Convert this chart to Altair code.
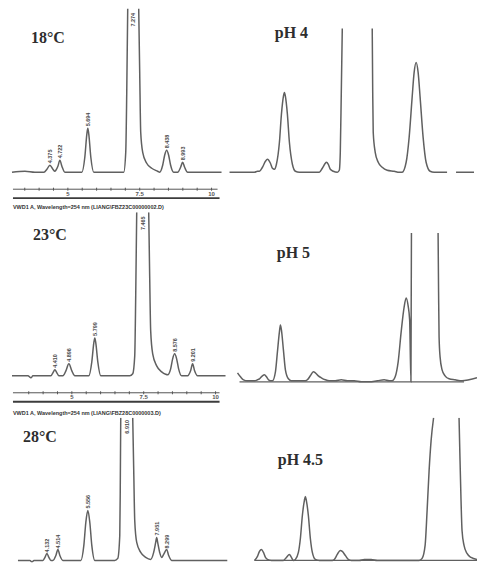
import altair as alt
import pandas as pd

# ---------------- data (retention time in min, signal in mAU) ----------------
# 18 °C chromatogram (two parts: the main peak is off-scale)
T18A = [3.056, 3.507, 3.854, 4.167, 4.271, 4.375, 4.479, 4.549, 4.583, 4.653, 4.722, 4.792, 4.896,
        5.486, 5.590, 5.660, 5.694, 5.729, 5.799, 5.903, 6.944, 7.014, 7.049, 7.083]
H18A = [0, 1, 0, 0, 3, 7, 3, 1, 2, 6, 12, 6, 0,
        0, 15, 38, 44, 38, 15, 0, 0, 20, 80, 164]
T18B = [7.465, 7.500, 7.535, 7.604, 7.743, 7.917, 8.125, 8.194, 8.299, 8.368, 8.438, 8.507, 8.576,
        8.681, 8.819, 8.924, 8.993, 9.063, 9.167, 10.347]
H18B = [164, 100, 40, 20, 9, 4, 1, 0, 7, 17, 22, 17, 7,
        0, 0, 5, 10, 5, 0, 0]
PK18_T = [4.375, 4.722, 5.694, 7.274, 8.438, 8.993]
PK18_H = [9, 14, 46, 146, 24, 12]
PK18_LAB = ["4.375", "4.722", "5.694", "7.274", "8.438", "8.993"]

# 23 °C chromatogram
T23A = [2.917, 3.472, 3.576, 3.646, 4.201, 4.271, 4.340, 4.410, 4.479, 4.549, 4.688, 4.792, 4.896,
        5.000, 5.104, 5.590, 5.694, 5.764, 5.799, 5.833, 5.903, 6.007, 7.014, 7.118, 7.188, 7.222, 7.257]
H23A = [0, 0, -2, 0, 0, 0, 3, 6, 3, 0, 0, 5, 12,
        5, 0, 0, 14, 33, 38, 33, 14, 0, 0, 2, 20, 80, 164]
T23B = [7.674, 7.708, 7.743, 7.813, 7.951, 8.125, 8.264, 8.333, 8.438, 8.507, 8.576, 8.646, 8.715,
        8.819, 9.028, 9.132, 9.201, 9.271, 9.375, 10.347]
H23B = [164, 100, 45, 22, 10, 4, 1.5, 1, 7, 17, 22, 17, 7,
        0, 0, 5, 12, 5, 0, 0]
PK23_T = [4.410, 4.896, 5.799, 7.465, 8.576, 9.201]
PK23_H = [8, 14, 40, 146, 24, 14]
PK23_LAB = ["4.410", "4.896", "5.799", "7.465", "8.576", "9.201"]

# 28 °C chromatogram
T28A = [3.125, 3.542, 3.611, 3.681, 3.993, 4.063, 4.132, 4.201, 4.271, 4.340, 4.444, 4.514, 4.583,
        4.688, 5.313, 5.417, 5.486, 5.556, 5.625, 5.694, 5.799, 6.493, 6.597, 6.667, 6.684, 6.701]
H28A = [0, 0, -1.5, 0, 0, 3, 7, 3, 0, 0, 5, 11, 5,
        0, 0, 15, 38, 50, 38, 15, 0, 0, 2, 25, 70, 143]
T28B = [7.118, 7.153, 7.188, 7.257, 7.396, 7.569, 7.743, 7.847, 7.917, 7.951, 7.986, 8.056, 8.125,
        8.194, 8.299, 8.368, 8.472, 10.417]
H28B = [143, 90, 40, 18, 8, 3, 1, 8, 18, 23, 18, 8, 3,
        6, 11, 5, 0, 0]
PK28_T = [4.132, 4.514, 5.556, 6.910, 7.951, 8.299]
PK28_H = [8, 12, 52, 127, 25, 12]
PK28_LAB = ["4.132", "4.514", "5.556", "6.910", "7.951", "8.299"]

# pH 4
TP4A = [0.2, 2.7, 3.0, 3.2, 3.5, 3.8, 4.0, 4.3, 4.5, 4.7, 4.9, 5.2, 5.4, 5.6, 5.7, 5.8, 6.0, 6.2,
        6.5, 6.8, 7.2, 8.8, 9.2, 9.5, 9.8, 9.9, 10.1, 10.3, 10.6, 11.0, 11.2, 11.3, 11.4, 11.5]
HP4A = [0, 0, 1, 1, 5, 11, 13, 9, 4, 3, 8, 30, 58, 76, 80, 76, 58, 30,
        8, 1, 0, 0, 0, 4, 9, 10, 8, 3, 1, 0, 2, 20, 80, 144]
TP4B = [14.5, 14.55, 14.6, 14.8, 15.1, 15.5, 16.0, 16.7, 17.2, 17.5, 17.9, 18.2, 18.5, 18.7, 18.9,
        19.1, 19.3, 19.6, 19.9, 20.3, 20.7, 22.0]
HP4B = [144, 80, 40, 20, 10, 5, 2, 1, 0, 0, 10, 35, 75, 100, 110,
        100, 75, 35, 10, 1, 0, 0]
TP4C = [22.9, 24.7]
HP4C = [0, 0]

# pH 5
TP5A = [1.0, 1.3, 1.6, 2.0, 2.7, 3.0, 3.2, 3.5, 3.7, 3.9, 4.1, 4.3, 4.5, 4.8, 5.0, 5.2, 5.3, 5.4,
        5.6, 5.8, 6.1, 6.4, 7.2, 7.8, 8.0, 8.3, 8.6, 8.8, 9.1, 9.4, 9.8, 10.2, 10.8, 11.4, 12.0,
        12.7, 13.4, 14.2, 15.0, 15.7, 16.2, 16.5, 16.8, 17.1, 17.4, 17.7, 17.9, 18.1, 18.25, 18.38, 18.43]
HP5A = [9, 5, 2, 1, 1, 2, 3, 6, 7, 5, 2, 1, 1, 10, 30, 50, 57, 52,
        32, 12, 3, 1, 1, 1, 2, 6, 10, 9, 6, 4, 2, 1, 1, 2, 1,
        1, 0, 0, 1, 2, 1, 1, 5, 20, 50, 75, 84, 76, 62, 0, 149]
TP5B = [21.1, 21.15, 21.2, 21.3, 21.5, 21.8, 22.2, 22.8, 23.5, 24.2, 25.0]
HP5B = [149, 90, 45, 25, 12, 6, 3, 2, 1, 2, 4]
BASE5 = [1.2, 23.7]

# pH 4.5
TP45A = [2.7, 3.0, 3.2, 3.4, 3.6, 3.8, 4.0, 4.4, 4.8, 5.6, 5.9, 6.2, 6.4, 6.6, 6.8, 7.1, 7.3, 7.5,
         7.7, 7.8, 7.9, 8.1, 8.3, 8.5, 8.8, 9.2, 10.5, 10.7, 11.0, 11.3, 11.5, 11.8, 12.1, 12.4,
         13.2, 13.7, 14.4, 15.0, 16.2, 17.2, 18.2, 19.2, 19.5, 19.8, 20.0, 20.2, 20.4, 20.65]
HP45A = [0, 4, 9, 11, 8, 3, 1, 0, 0, 0, 3, 6, 3, 0, 1, 8, 22, 45,
         60, 64, 60, 45, 22, 8, 1, 0, 0, 1, 6, 10, 9, 5, 1, 0,
         0, 1, 1, 0, 0, 0, 0, 0, 2, 15, 50, 90, 120, 143]
TP45B = [23.2, 23.3, 23.4, 23.5, 23.7, 24.0, 24.4, 25.0]
HP45B = [143, 100, 60, 30, 15, 7, 3, 1]
BASE45 = [2.7, 25.0]

# time-axis strips printed below the 18 °C and 23 °C runs
AX_TICKS = [3.5, 4.0, 4.5, 5.0, 5.5, 6.0, 6.5, 7.0, 7.5, 8.0, 8.5, 9.0, 9.5, 10.0]
AX_LABELS = [5, 7.5, 10]
HEADER_23 = "VWD1 A, Wavelength=254 nm (LIANG\\FBZ23C00000002.D)"
HEADER_28 = "VWD1 A, Wavelength=254 nm (LIANG\\FBZ28C0000003.D)"

TRACE = "#606060"
INK = "#2e2e2e"


def parts_df(parts):
    rows = []
    for k, (ts, hs) in enumerate(parts):
        for t, h in zip(ts, hs):
            rows.append({"t": t, "h": h, "seg": k})
    return pd.DataFrame(rows)


def panel(parts, xdom, ydom, w, hgt, title, title_t, title_h,
          peaks=None, strip=None, base=None):
    xs = alt.Scale(domain=xdom, nice=False, zero=False)
    ys = alt.Scale(domain=ydom, nice=False, zero=False)
    X = alt.X("t:Q", scale=xs, axis=None)
    Y = alt.Y("h:Q", scale=ys, axis=None)
    layers = []
    if base is not None:
        bdf = pd.DataFrame({"t": [base[0]], "t2": [base[1]], "h": [0]})
        layers.append(alt.Chart(bdf).mark_rule(color=TRACE, strokeWidth=1.2).encode(
            x=X, x2="t2:Q", y=Y))
    layers.append(alt.Chart(parts_df(parts)).mark_line(
        interpolate="monotone", color=TRACE, strokeWidth=1.5, clip=True).encode(
        x=X, y=Y, detail="seg:N"))
    tdf = pd.DataFrame({"t": [title_t], "h": [title_h], "s": [title]})
    layers.append(alt.Chart(tdf).mark_text(
        font="Liberation Serif", fontWeight="bold", fontSize=16, color=INK,
        align="center", baseline="middle").encode(x=X, y=Y, text="s:N"))
    if peaks is not None:
        pdf = pd.DataFrame({"t": peaks[0], "h": peaks[1], "s": peaks[2]})
        layers.append(alt.Chart(pdf).mark_text(
            font="Liberation Sans", fontSize=5.5, fontWeight="bold", color="#4a4a4a",
            angle=270, align="left", baseline="middle").encode(x=X, y=Y, text="s:N"))
    if strip is not None:
        x0, x1, x2, hl, hlab, hl2, htxt, header = strip
        l1 = pd.DataFrame({"t": [x0], "t2": [x1], "h": [hl]})
        layers.append(alt.Chart(l1).mark_rule(color="#555555", strokeWidth=1).encode(
            x=X, x2="t2:Q", y=Y))
        tk = pd.DataFrame({"t": AX_TICKS, "h": [hl - 1.5] * len(AX_TICKS),
                           "h2": [hl + 1.5] * len(AX_TICKS)})
        layers.append(alt.Chart(tk).mark_rule(color="#555555", strokeWidth=1).encode(
            x=X, y=Y, y2="h2:Q"))
        lb = pd.DataFrame({"t": AX_LABELS, "h": [hlab] * len(AX_LABELS),
                           "s": [str(v) for v in AX_LABELS]})
        layers.append(alt.Chart(lb).mark_text(
            font="Liberation Sans", fontSize=6, fontWeight="bold", color="#555555",
            align="center", baseline="middle").encode(x=X, y=Y, text="s:N"))
        l2 = pd.DataFrame({"t": [x0], "t2": [x2], "h": [hl2]})
        layers.append(alt.Chart(l2).mark_rule(color="#3c3c3c", strokeWidth=1.8).encode(
            x=X, x2="t2:Q", y=Y))
        hd = pd.DataFrame({"t": [x0], "h": [htxt], "s": [header]})
        layers.append(alt.Chart(hd).mark_text(
            font="Liberation Sans", fontSize=5.5, fontWeight="bold", color="#333333",
            align="left", baseline="middle").encode(x=X, y=Y, text="s:N"))
    return alt.layer(*layers).properties(width=w, height=hgt)


LDOM1 = [2.917, 10.556]
LDOM2 = [2.778, 10.417]
RDOM = [0, 25]

L1 = panel([(T18A, H18A), (T18B, H18B)], LDOM1, [-40, 164], 220, 204, "18°C", 4.306, 135,
           peaks=(PK18_T, PK18_H, PK18_LAB),
           strip=(3.090, 10.208, 10.278, -17, -22, -26, -35, HEADER_23))
L2 = panel([(T23A, H23A), (T23B, H23B)], LDOM2, [-42, 164], 220, 206, "23°C", 4.236, 141,
           peaks=(PK23_T, PK23_H, PK23_LAB),
           strip=(2.951, 10.139, 10.139, -17, -21, -26, -37, HEADER_28))
L3 = panel([(T28A, H28A), (T28B, H28B)], LDOM2, [-2, 143], 220, 145, "28°C", 3.889, 124,
           peaks=(PK28_T, PK28_H, PK28_LAB))

R1 = panel([(TP4A, HP4A), (TP4B, HP4B), (TP4C, HP4C)], RDOM, [-40, 164], 250, 204,
           "pH 4", 6.4, 140)
R2 = panel([(TP5A, HP5A), (TP5B, HP5B)], RDOM, [-36, 170], 250, 206,
           "pH 5", 6.6, 129, base=BASE5)
R3 = panel([(TP45A, HP45A), (TP45B, HP45B)], RDOM, [-2, 143], 250, 145,
           "pH 4.5", 7.3, 101, base=BASE45)

chart = alt.concat(L1, R1, L2, R2, L3, R3, columns=2, spacing=0, bounds="flush",
                   align="each").properties(
    padding=0, background="white").configure_view(stroke=None)

chart.save("out.html", embed_options={"renderer": "svg", "actions": False})
